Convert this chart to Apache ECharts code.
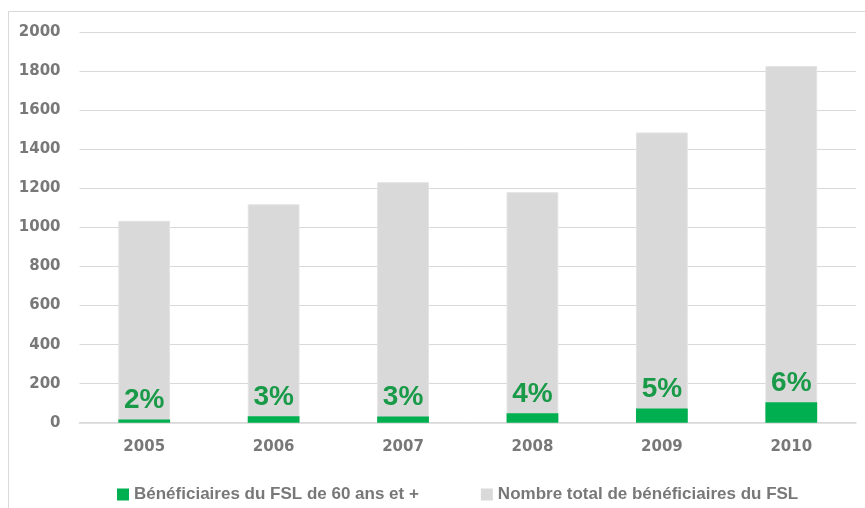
<!DOCTYPE html>
<html>
<head>
<meta charset="utf-8">
<script src="https://cdn.jsdelivr.net/npm/echarts@6/dist/echarts.min.js"></script>
<style>
  html, body { margin: 0; padding: 0; background: #fff; }
  #chart { width: 865px; height: 508px; }
</style>
</head>
<body>
<div id="chart"></div>
<script>
// Années et effectifs FSL
const years = ['2005', '2006', '2007', '2008', '2009', '2010'];
const totalBeneficiaires = [1034, 1119, 1232, 1181, 1487, 1827];
const seniorsBeneficiaires = [17, 33, 32, 48, 73, 105];

const nameSeniors = 'Bénéficiaires du FSL de 60 ans et +';
const nameTotal = 'Nombre total de bénéficiaires du FSL';

const axisGray = '#787878';
const axisFont = 'DejaVu Sans';

const chart = echarts.init(document.getElementById('chart'), null, { renderer: 'canvas' });

chart.setOption({
  animation: false,
  backgroundColor: '#ffffff',
  graphic: [{
    type: 'rect',
    shape: { x: 8.5, y: 11.5, width: 900, height: 600 },
    style: { fill: 'none', stroke: '#d9d9d9', lineWidth: 1 },
    silent: true
  }],
  grid: { left: 79.5, right: 9, top: 32.3, bottom: 85.3, containLabel: false },
  legend: {
    left: 112,
    top: 481,
    itemWidth: 12,
    itemHeight: 12,
    itemGap: 62,
    icon: 'rect',
    itemStyle: { borderWidth: 0 },
    data: [nameSeniors, nameTotal],
    textStyle: { color: axisGray, fontFamily: 'Liberation Sans', fontWeight: 'bold', fontSize: 17 }
  },
  xAxis: {
    type: 'category',
    data: years,
    axisTick: { show: false },
    axisLine: { lineStyle: { color: '#d9d9d9', width: 1.5 } },
    axisLabel: { color: axisGray, fontFamily: axisFont, fontWeight: 'bold', fontSize: 15, margin: 17 }
  },
  yAxis: {
    type: 'value',
    min: 0,
    max: 2000,
    interval: 200,
    axisLine: { show: false },
    axisTick: { show: false },
    splitLine: { lineStyle: { color: '#d9d9d9', width: 1 } },
    axisLabel: {
      color: axisGray, fontFamily: axisFont, fontWeight: 'bold', fontSize: 15, margin: 19,
      formatter: v => String(v)
    }
  },
  series: [
    {
      name: nameTotal,
      type: 'bar',
      data: totalBeneficiaires,
      barWidth: '40%',
      itemStyle: { color: '#d9d9d9', borderColor: '#e3e3e3', borderWidth: 1 }
    },
    {
      name: nameSeniors,
      type: 'bar',
      data: seniorsBeneficiaires,
      barWidth: '40%',
      barGap: '-100%',
      itemStyle: { color: '#00b050' },
      label: {
        show: true,
        position: 'top',
        distance: 5,
        color: '#189a48',
        fontFamily: 'Liberation Sans',
        fontWeight: 'bold',
        fontSize: 28,
        formatter: p => Math.round(p.value / totalBeneficiaires[p.dataIndex] * 100) + '%'
      }
    }
  ]
});
</script>
</body>
</html>
